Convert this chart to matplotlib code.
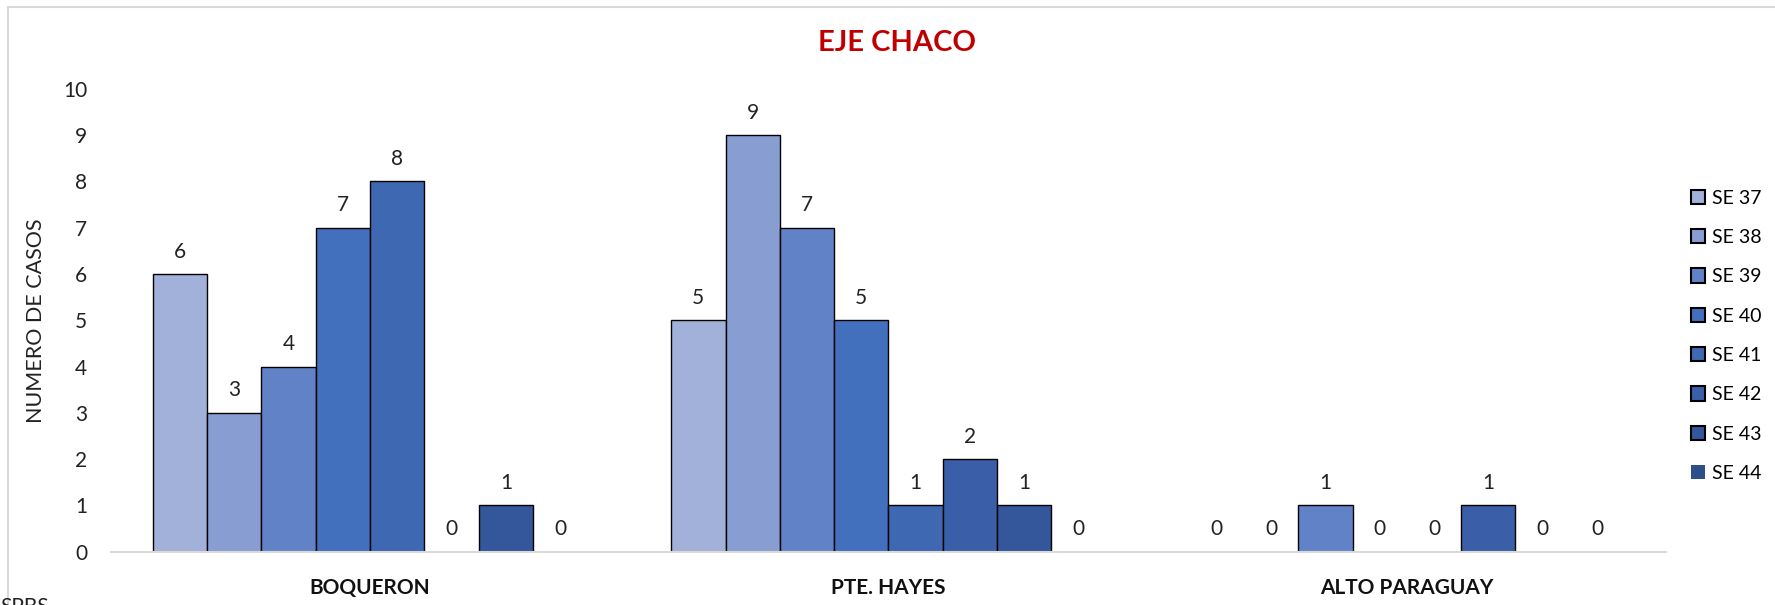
import numpy as np
import matplotlib
matplotlib.use("Agg")
import matplotlib.pyplot as plt
from matplotlib.patches import Rectangle

plt.rcParams['font.family'] = ['Lato', 'DejaVu Sans']

departamentos = ['BOQUERON', 'PTE. HAYES', 'ALTO PARAGUAY']
semanas = ['SE 37', 'SE 38', 'SE 39', 'SE 40', 'SE 41', 'SE 42', 'SE 43', 'SE 44']

# casos por semana, en el orden de departamentos
se37 = [6, 5, 0]
se38 = [3, 9, 0]
se39 = [4, 7, 1]
se40 = [7, 5, 0]
se41 = [8, 1, 0]
se42 = [0, 2, 1]
se43 = [1, 1, 0]
se44 = [0, 0, 0]
series = [se37, se38, se39, se40, se41, se42, se43, se44]

colores = ['#A2B1DA', '#889ED2', '#6282C7', '#4270BD', '#3E68B2', '#3A5FA8', '#34569A', '#2F4F8A']

fig = plt.figure(figsize=(17.75, 6.05), dpi=100)
ax = fig.add_axes([0.0625, 0.0881, 0.8761, 0.7649])

x = np.arange(len(departamentos))
w = 0.1048
for j, (vals, nombre) in enumerate(zip(series, semanas)):
    pos = x + (j - 3.5) * w
    bars = ax.bar(pos, vals, width=w, color=colores[j], edgecolor='black',
                  linewidth=1.0, label=nombre)
    for b, v in zip(bars, vals):
        if v == 0:
            b.set_edgecolor('none')
        ax.annotate(str(v), (b.get_x() + b.get_width() / 2, v),
                    xytext=(0, 9), textcoords='offset points',
                    ha='center', va='bottom', fontsize=15, color='#222222')

ax.set_xlim(-0.5, 2.5)
ax.set_ylim(0, 10)
ax.set_yticks(range(0, 11))
ax.set_xticks(x)
ax.set_xticklabels(departamentos, fontsize=15, fontweight='bold', color='#111111')
ax.tick_params(axis='x', length=0, pad=19)
ax.tick_params(axis='y', length=0, pad=17, labelsize=15, labelcolor='#222222')
for s in ['top', 'right', 'left']:
    ax.spines[s].set_visible(False)
ax.spines['bottom'].set_color('#D9D9D9')
ax.spines['bottom'].set_linewidth(1.5)

ax.set_ylabel('NUMERO DE CASOS', fontsize=15.5, color='#222222', labelpad=12)

fig.text(0.5054, 0.929, 'EJE CHACO', ha='center', va='center',
         fontsize=21, fontweight='bold', color='#C00000')

handles, labels = ax.get_legend_handles_labels()
leg = fig.legend(handles, labels, loc='center right', bbox_to_anchor=(0.999, 0.445),
                 frameon=False, fontsize=14, handlelength=0.75, handleheight=0.75,
                 handletextpad=0.35, labelspacing=1.15, borderaxespad=0.2)
for k, h in enumerate(leg.legend_handles):
    h.set_edgecolor('none' if k == len(semanas) - 1 else 'black')
    h.set_linewidth(1.5)

# marco del grafico
fig.patches.append(Rectangle((8 / 1775, -0.1), 1.2, 1.1 - 7 / 605, transform=fig.transFigure,
                             fill=False, edgecolor='#D9D9D9', linewidth=1.5))
fig.text(0.0, 0.014, 'SPBS', ha='left', va='top', fontsize=15, color='#222222')

fig.savefig('out.png', dpi=100)
